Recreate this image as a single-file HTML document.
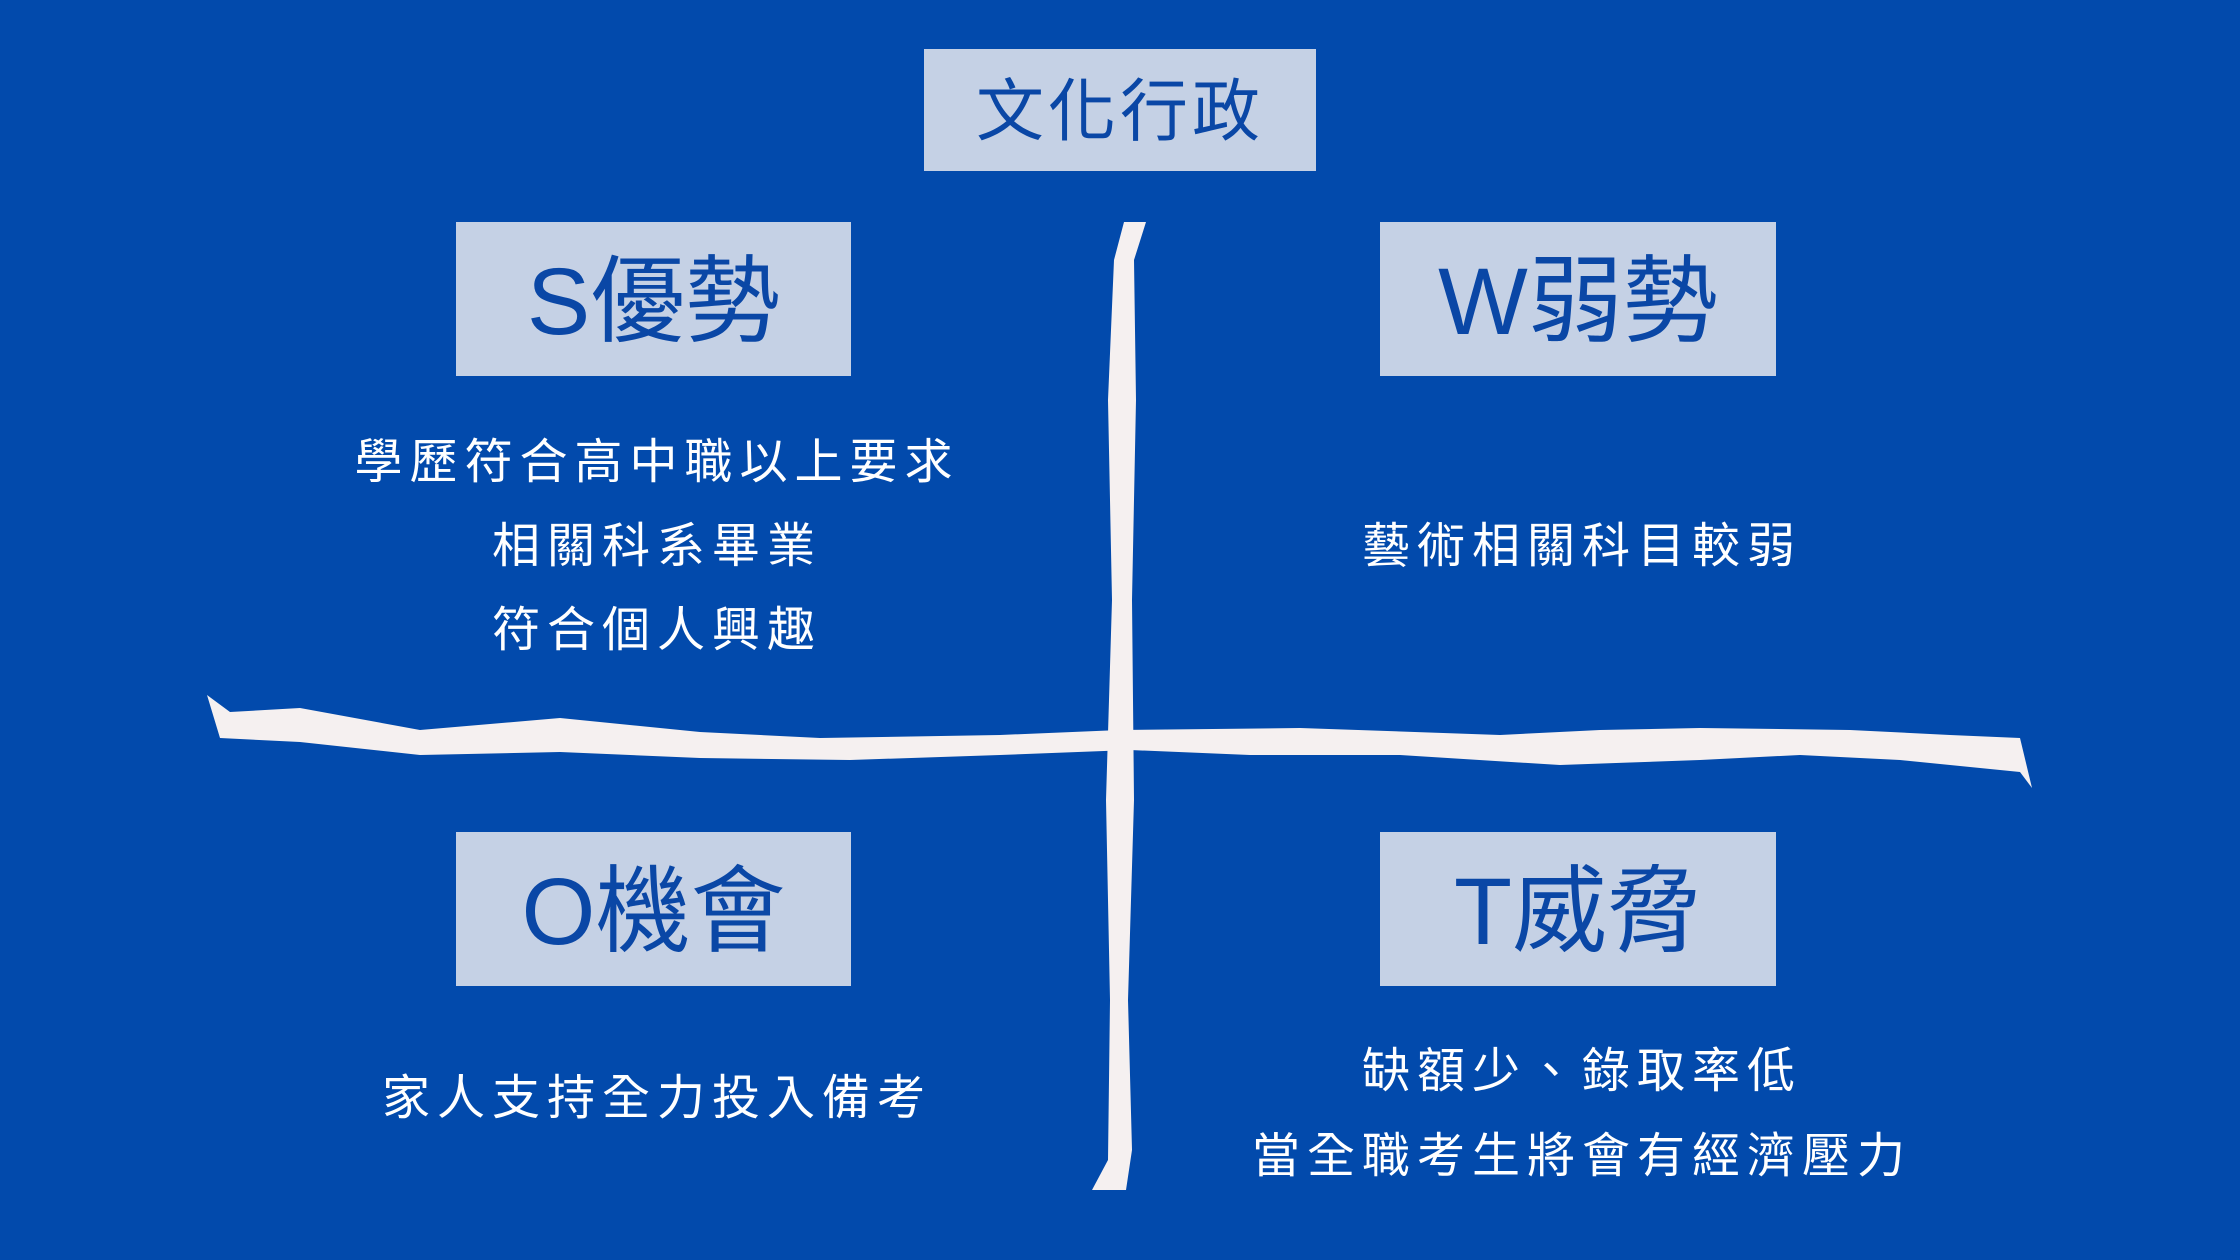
<!DOCTYPE html>
<html><head><meta charset="utf-8"><style>
html,body{margin:0;padding:0}
body{width:2240px;height:1260px;background:#024aac;position:relative;overflow:hidden;font-family:"Liberation Sans","Noto Sans CJK TC",sans-serif}
.box{position:absolute;background:#c5d1e5;color:#0a47a6;display:flex;align-items:center;justify-content:center}
.box span{position:relative;top:-6px}
.t{position:absolute;color:#fff;text-align:center;font-size:48px;letter-spacing:7px;white-space:nowrap;transform:translateX(-50%);line-height:1}
</style></head><body>
<div class="box" style="left:924px;top:49px;width:392px;height:122px;font-size:68px;letter-spacing:4px"><span style="top:-5px">文化行政</span></div>
<div class="box" style="left:456px;top:222px;width:395px;height:154px;font-size:95px"><span>S優勢</span></div>
<div class="box" style="left:1380px;top:222px;width:396px;height:154px;font-size:95px"><span>W弱勢</span></div>
<div class="box" style="left:456px;top:832px;width:395px;height:154px;font-size:95px"><span>O機會</span></div>
<div class="box" style="left:1380px;top:832px;width:396px;height:154px;font-size:95px"><span>T威脅</span></div>
<svg width="2240" height="1260" style="position:absolute;left:0;top:0">
<path d="M207 695 L230 712 L300 708 L420 730 L560 718 L700 732 L820 738 L1000 735 L1120 730 L1300 728 L1500 735 L1600 730 L1700 728 L1850 730 L1950 735 L2020 738 L2032 788 L2020 772 L1900 760 L1800 755 L1700 760 L1560 765 L1400 755 L1250 755 L1130 750 L1000 755 L850 760 L700 758 L560 752 L420 755 L300 742 L220 738 Z" fill="#f5f0f0"/>
<path d="M1124 222 L1146 222 L1134 260 L1136 400 L1132 600 L1134 800 L1128 1000 L1132 1150 L1126 1190 L1092 1190 L1108 1160 L1110 1000 L1106 800 L1112 600 L1108 400 L1114 260 Z" fill="#f5f0f0"/>
</svg>
<div class="t" style="left:657px;top:439px">學歷符合高中職以上要求</div>
<div class="t" style="left:657px;top:523px">相關科系畢業</div>
<div class="t" style="left:657px;top:607px">符合個人興趣</div>
<div class="t" style="left:1582px;top:523px">藝術相關科目較弱</div>
<div class="t" style="left:657px;top:1075px">家人支持全力投入備考</div>
<div class="t" style="left:1582px;top:1048px">缺額少、錄取率低</div>
<div class="t" style="left:1582px;top:1133px">當全職考生將會有經濟壓力</div>
</body></html>
